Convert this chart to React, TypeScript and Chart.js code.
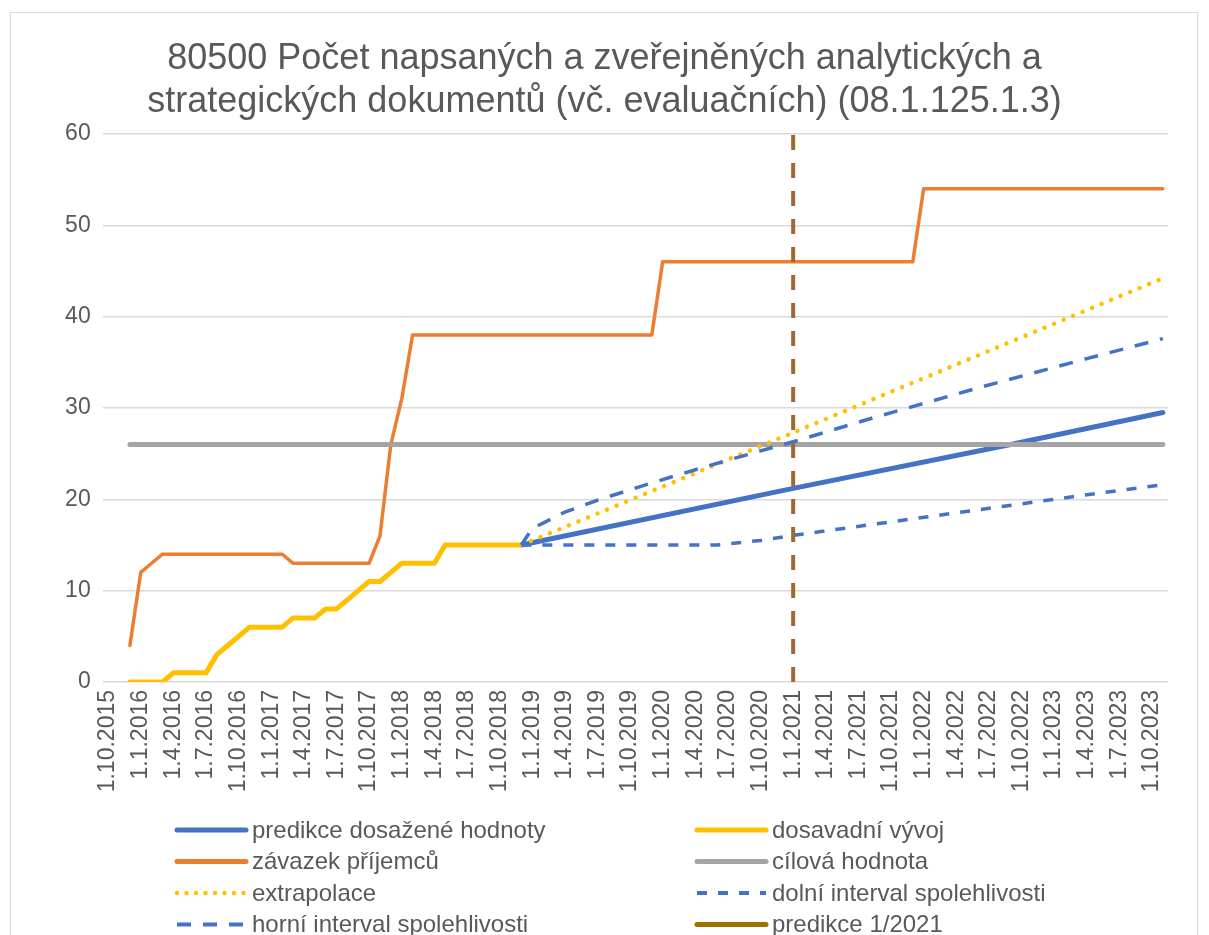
import { useEffect, useRef } from "react";
import { Chart, registerables } from "chart.js";

Chart.register(...registerables);

// ---------- DATA ----------
const titleLines = [
  "80500 Počet napsaných a zveřejněných analytických a",
  "strategických dokumentů (vč. evaluačních) (08.1.125.1.3)",
];

// x values are months counted from 1.10.2015 (= 0)
const tickLabels = [
  "1.10.2015", "1.1.2016", "1.4.2016", "1.7.2016", "1.10.2016",
  "1.1.2017", "1.4.2017", "1.7.2017", "1.10.2017",
  "1.1.2018", "1.4.2018", "1.7.2018", "1.10.2018",
  "1.1.2019", "1.4.2019", "1.7.2019", "1.10.2019",
  "1.1.2020", "1.4.2020", "1.7.2020", "1.10.2020",
  "1.1.2021", "1.4.2021", "1.7.2021", "1.10.2021",
  "1.1.2022", "1.4.2022", "1.7.2022", "1.10.2022",
  "1.1.2023", "1.4.2023", "1.7.2023", "1.10.2023",
];
const tickStepMonths = 3;

const seriesNames = [
  "predikce dosažené hodnoty",
  "dosavadní vývoj",
  "závazek příjemců",
  "cílová hodnota",
  "extrapolace",
  "dolní interval spolehlivosti",
  "horní interval spolehlivosti",
  "predikce 1/2021",
];

// first monthly observation: 1.12.2015 (month 2)
const firstObservationMonth = 2;

// dosavadní vývoj, monthly 12/2015 .. 12/2018
const actualValues = [
  0, 0, 0, 0, 1, 1, 1, 1, 3, 4, 5, 6, 6, 6, 6, 7, 7, 7, 8, 8, 9, 10, 11, 11,
  12, 13, 13, 13, 13, 15, 15, 15, 15, 15, 15, 15, 15,
];

// závazek příjemců, monthly 12/2015 .. 11/2023
const commitmentValues = [
  4, 12, 13, 14, 14, 14, 14, 14, 14, 14, 14, 14, 14, 14, 14, 13, 13, 13, 13,
  13, 13, 13, 13, 16, 26, 31, 38, 38, 38, 38, 38, 38, 38, 38, 38, 38, 38, 38,
  38, 38, 38, 38, 38, 38, 38, 38, 38, 38, 38, 46, 46, 46, 46, 46, 46, 46, 46,
  46, 46, 46, 46, 46, 46, 46, 46, 46, 46, 46, 46, 46, 46, 46, 46, 54, 54, 54,
  54, 54, 54, 54, 54, 54, 54, 54, 54, 54, 54, 54, 54, 54, 54, 54, 54, 54, 54,
  54,
];

// cílová hodnota
const targetValue = 26;
const targetMonths = [2, 97];

// predictions read at selected months
const predictionMonths = [38, 63, 83, 97];
const predictionValues = [15, 21.2, 26.0, 29.5];

const extrapolationMonths = [38, 63, 97];
const extrapolationValues = [15, 27.3, 44.2];

const lowerMonths = [38, 56, 60, 63, 70, 80, 90, 97];
const lowerValues = [15, 15, 15.5, 16.05, 17.2, 18.85, 20.5, 21.6];

const upperMonths = [38, 39, 40, 42, 45, 50, 55, 60, 63, 70, 80, 90, 97];
const upperValues = [15, 16.8, 17.4, 18.6, 19.9, 21.8, 23.6, 25.3, 26.3, 28.8, 32.2, 35.4, 37.6];

// predikce 1/2021 marker
const markerMonth = 63;
const markerRange = [0, 60];

// ---------- STYLE ----------
const FONT = "'Liberation Sans', Arial, sans-serif";
const TEXT = "#595959";
const BLUE = "#4472C4";
const YELLOW = "#FFC000";
const ORANGE = "#ED7D31";
const GRAY = "#A5A5A5";
const BROWN = "#A0672F";
const OLIVE = "#997300";

const pairs = (xs: number[], ys: number[]) => xs.map((x, i) => ({ x, y: ys[i] }));
const monthly = (start: number, ys: number[]) => ys.map((y, i) => ({ x: start + i, y }));

const legendPlugin = {
  id: "twoColumnLegend",
  afterDraw(chart: any) {
    const ctx = chart.ctx as CanvasRenderingContext2D;
    const colX = [177, 697];
    const rowY = [830, 861.5, 893, 924.5];
    const swatchLen = 69;
    ctx.save();
    chart.data.datasets.forEach((ds: any, i: number) => {
      const x0 = colX[i % 2];
      const y = rowY[Math.floor(i / 2)];
      ctx.beginPath();
      ctx.strokeStyle = ds.legendColor || ds.borderColor;
      ctx.lineWidth = ds.legendWidth || ds.borderWidth;
      ctx.lineCap = ds.legendCap || ds.borderCapStyle || "butt";
      ctx.setLineDash(ds.legendDash || ds.borderDash || []);
      ctx.moveTo(x0, y);
      ctx.lineTo(x0 + swatchLen, y);
      ctx.stroke();
      ctx.setLineDash([]);
      ctx.fillStyle = TEXT;
      ctx.font = `24px ${FONT}`;
      ctx.textBaseline = "middle";
      ctx.textAlign = "left";
      ctx.fillText(ds.label, x0 + swatchLen + 6, y + 1);
    });
    ctx.restore();
  },
};

const framePlugin = {
  id: "frame",
  beforeDraw(chart: any) {
    const ctx = chart.ctx as CanvasRenderingContext2D;
    ctx.save();
    ctx.fillStyle = "#ffffff";
    ctx.fillRect(0, 0, chart.width, chart.height);
    ctx.strokeStyle = "#D9D9D9";
    ctx.lineWidth = 1;
    ctx.strokeRect(10.5, 12.5, 1187, 1000);
    ctx.restore();
  },
};

export default function App() {
  const ref = useRef<HTMLCanvasElement | null>(null);

  useEffect(() => {
    if (!ref.current) return;
    const datasets: any[] = [
      {
        label: seriesNames[0],
        data: pairs(predictionMonths, predictionValues),
        borderColor: BLUE,
        borderWidth: 5,
        borderCapStyle: "round",
        order: 8,
      },
      {
        label: seriesNames[1],
        data: monthly(firstObservationMonth, actualValues),
        borderColor: YELLOW,
        borderWidth: 5,
        borderCapStyle: "round",
        order: 7,
      },
      {
        label: seriesNames[2],
        data: monthly(firstObservationMonth, commitmentValues),
        borderColor: ORANGE,
        borderWidth: 3.5,
        borderCapStyle: "round",
        legendWidth: 5,
        order: 6,
      },
      {
        label: seriesNames[3],
        data: targetMonths.map((x) => ({ x, y: targetValue })),
        borderColor: GRAY,
        borderWidth: 5,
        borderCapStyle: "round",
        order: 5,
      },
      {
        label: seriesNames[4],
        data: pairs(extrapolationMonths, extrapolationValues),
        borderColor: YELLOW,
        borderWidth: 4.5,
        borderDash: [0.001, 10.3],
        borderCapStyle: "round",
        legendDash: [0.001, 9.5],
        order: 4,
      },
      {
        label: seriesNames[5],
        data: pairs(lowerMonths, lowerValues),
        borderColor: BLUE,
        borderWidth: 3.5,
        borderDash: [10, 11],
        legendWidth: 4,
        order: 3,
      },
      {
        label: seriesNames[6],
        data: pairs(upperMonths, upperValues),
        borderColor: BLUE,
        borderWidth: 3.5,
        borderDash: [14, 12],
        legendWidth: 4,
        order: 2,
      },
      {
        label: seriesNames[7],
        data: markerRange.map((y) => ({ x: markerMonth, y })),
        borderColor: BROWN,
        borderWidth: 4,
        borderDash: [15, 13],
        legendColor: OLIVE,
        legendWidth: 5,
        legendDash: [1, 0],
        legendCap: "round",
        order: 1,
      },
    ].map((d) => ({ ...d, pointRadius: 0, tension: 0, fill: false, borderJoinStyle: "round" }));

    const chart = new Chart(ref.current, {
      type: "line",
      data: { datasets },
      options: {
        responsive: false,
        animation: false,
        devicePixelRatio: 1,
        layout: { padding: { left: 40.7, right: 40.7, top: 0, bottom: 133 } },
        plugins: {
          legend: { display: false },
          tooltip: { enabled: false },
          title: {
            display: true,
            text: titleLines,
            color: TEXT,
            font: { family: FONT, size: 36, weight: "normal", lineHeight: 1.2 },
            padding: { top: 37.4, bottom: 10.2 },
          },
        },
        scales: {
          x: {
            type: "linear",
            min: -0.5,
            max: 97.5,
            grid: { display: false, drawTicks: false },
            border: { display: false },
            afterFit: (s: any) => {
              s.height = 120;
            },
            ticks: {
              stepSize: tickStepMonths,
              includeBounds: false,
              maxTicksLimit: 100,
              autoSkip: false,
              minRotation: 90,
              maxRotation: 90,
              padding: 8,
              color: TEXT,
              font: { family: FONT, size: 23 },
              callback: (v: any) => tickLabels[Math.round(Number(v) / tickStepMonths)] ?? "",
            },
          },
          y: {
            min: 0,
            max: 60,
            grid: { color: "#D9D9D9", lineWidth: 1.5, drawTicks: false },
            border: { display: false },
            afterFit: (s: any) => {
              s.width = 62;
            },
            ticks: {
              stepSize: 10,
              padding: 12,
              color: TEXT,
              font: { family: FONT, size: 23 },
            },
          },
        },
      },
      plugins: [framePlugin, legendPlugin],
    });
    return () => chart.destroy();
  }, []);

  return (
    <div
      style={{
        position: "absolute",
        left: 0,
        top: 0,
        width: 1209,
        height: 935,
        overflow: "hidden",
        background: "#fff",
      }}
    >
      <canvas ref={ref} width={1209} height={935} style={{ width: 1209, height: 935, display: "block" }} />
    </div>
  );
}
